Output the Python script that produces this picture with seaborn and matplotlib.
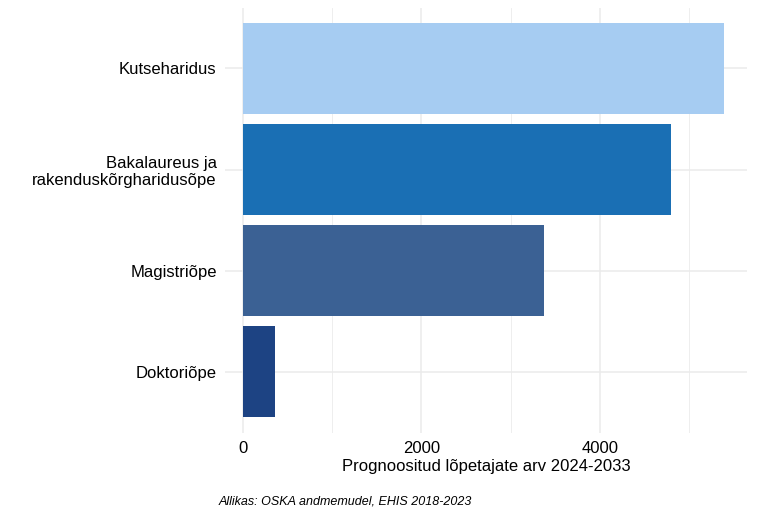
import matplotlib
matplotlib.use("Agg")
import matplotlib.pyplot as plt
import pandas as pd
import seaborn as sns

categories = ["Kutseharidus", "Bakalaureus ja\nrakenduskõrgharidusõpe", "Magistriõpe", "Doktoriõpe"]
values = [5390, 4800, 3370, 360]
colors = ["#99CCFF", "#0072CE", "#2C5FA3", "#0C3F94"]

plt.rcParams["font.family"] = "Liberation Sans"
frame = pd.DataFrame({"level": categories, "count": values})

fig = plt.figure(figsize=(7.68, 5.12), dpi=100)
ax = fig.add_axes([0.293, 0.155, 0.68, 0.83])
sns.barplot(data=frame, y="level", x="count", hue="level", palette=colors,
            order=categories, width=0.9, legend=False, ax=ax)
ax.set_xlim(-200, 5650)
ax.set_ylim(3.6, -0.6)
ax.set_xticks([0, 2000, 4000])
ax.set_xticks([1000, 3000, 5000], minor=True)
ax.grid(True, which="major", color="#EBEBEB", linewidth=1.1)
ax.grid(True, which="minor", axis="x", color="#EBEBEB", linewidth=0.6)
ax.set_axisbelow(True)
for s in ax.spines.values():
    s.set_visible(False)
ax.tick_params(length=0, labelsize=12, colors="black", pad=6)
ax.tick_params(which="minor", length=0)
ax.set_ylabel("")
ax.set_xlabel("Prognoositud lõpetajate arv 2024-2033", fontsize=12, labelpad=2)
fig.text(0.285, 0.015, "Allikas: OSKA andmemudel, EHIS 2018-2023", fontsize=9, style="italic")
fig.savefig("out.png", dpi=100)
